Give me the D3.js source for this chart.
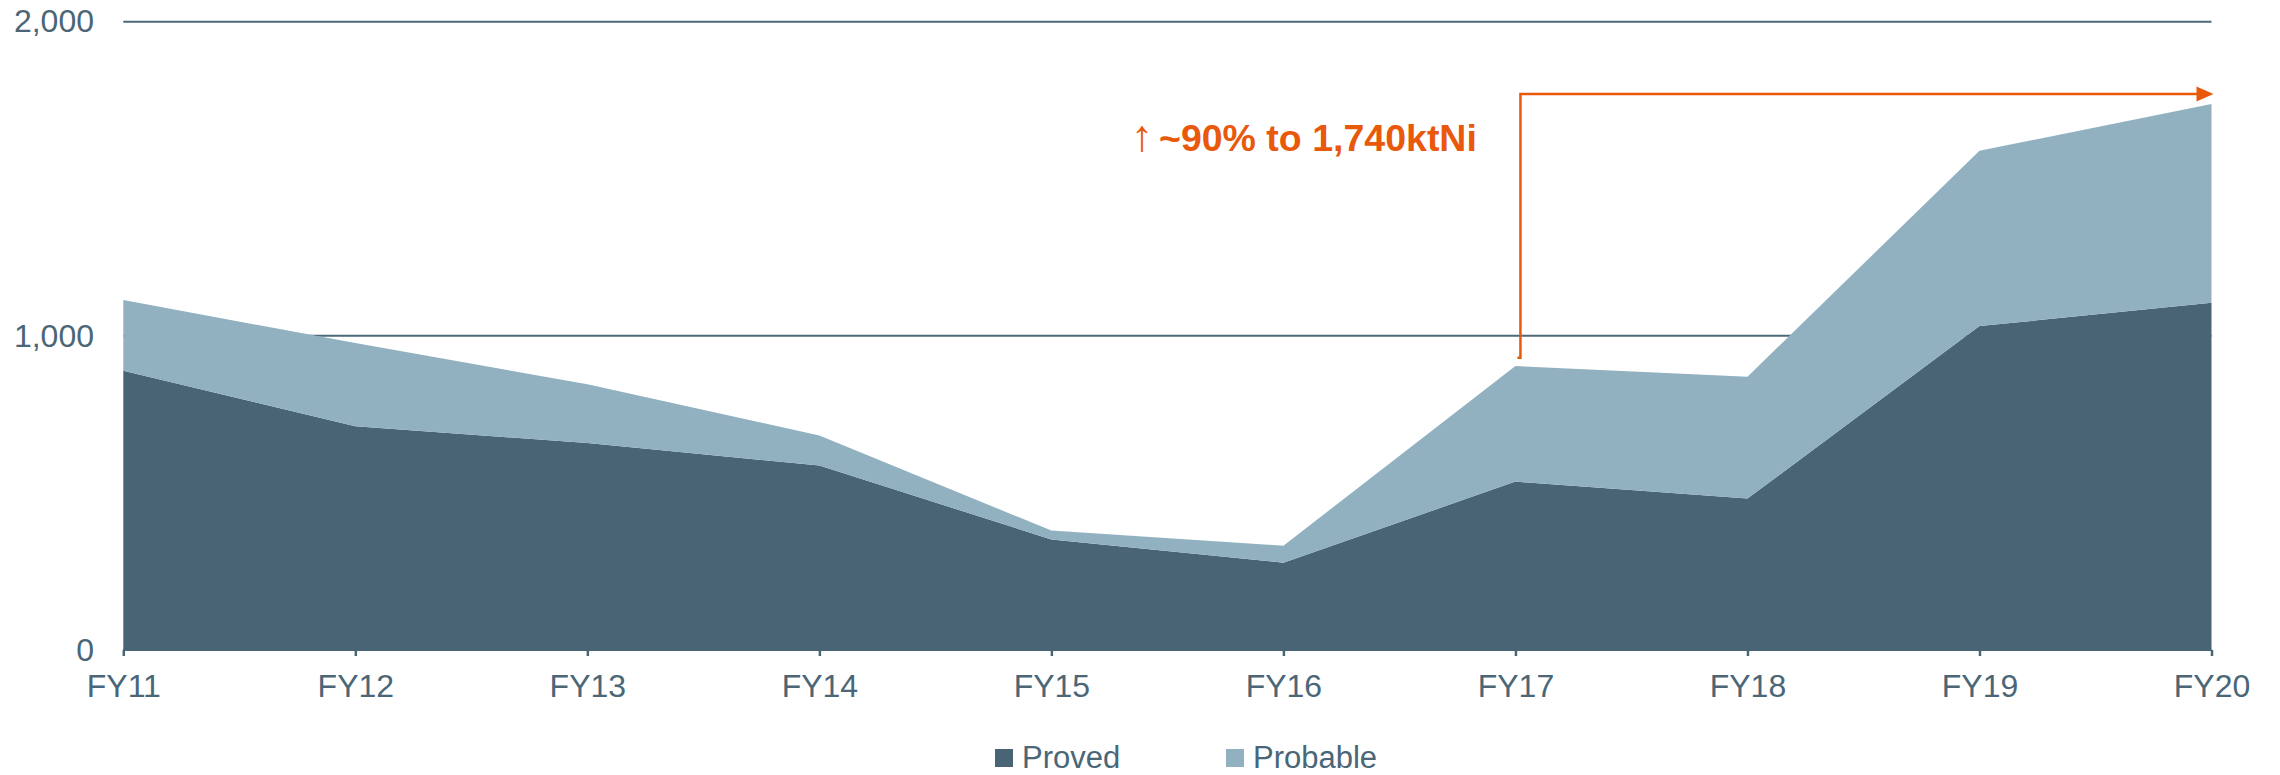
<!DOCTYPE html>
<html>
<head>
<meta charset="utf-8">
<script src="https://cdn.jsdelivr.net/npm/d3@7"></script>
<style>
  html, body { margin: 0; padding: 0; background: #ffffff; }
  svg { display: block; font-family: "Liberation Sans", Arial, sans-serif; }
</style>
</head>
<body>
<svg id="chart" width="2280" height="775"></svg>
<script>
// ---- data ----
const categories = ["FY11","FY12","FY13","FY14","FY15","FY16","FY17","FY18","FY19","FY20"];
const proved     = [889, 712, 659, 587, 352, 278, 536, 482, 1031, 1105];
const probable   = [225, 265, 187,  96,  28,  54, 368, 388,  558,  633];
const seriesNames = ["Proved", "Probable"];
const yTicks = [0, 1000, 2000];
const annotationText = "~90% to 1,740ktNi";
const annotationFrom = "FY17";
const annotationTo = "FY20";
const annotationLevel = 1770;
const annotationStart = 930;

// ---- style ----
const colors = { Proved: "#486475", Probable: "#91b1c0" };
const textColor = "#4a6677";
const orange = "#e8590c";

const svg = d3.select("#chart");
const x = d3.scalePoint().domain(categories).range([123.3, 2211.5]);
const y = d3.scaleLinear().domain([0, 2000]).range([650, 21.7]);

const rows = categories.map((c, i) => ({ cat: c, Proved: proved[i], Probable: probable[i] }));
const stacked = d3.stack().keys(seriesNames)(rows);

// gridlines
svg.append("g").selectAll("line")
  .data(yTicks.filter(t => t > 0))
  .join("line")
  .attr("x1", x.range()[0]).attr("x2", x.range()[1])
  .attr("y1", d => y(d)).attr("y2", d => y(d))
  .attr("stroke", "#4d6878").attr("stroke-width", 2);

// areas
const area = d3.area()
  .x(d => x(d.data.cat))
  .y0(d => y(d[0]))
  .y1(d => y(d[1]));
svg.append("g").selectAll("path")
  .data(stacked)
  .join("path")
  .attr("fill", d => colors[d.key])
  .attr("d", area);

// x axis
const xAxis = d3.axisBottom(x).tickSize(6).tickPadding(18);
const gx = svg.append("g").attr("transform", `translate(0,${y(0)})`).call(xAxis);
gx.select(".domain").attr("stroke", "#486475").attr("stroke-width", 2).attr("d", `M${x.range()[0]},0H${x.range()[1]}`);
gx.selectAll(".tick line").attr("stroke", "#486475").attr("stroke-width", 2.5);
gx.selectAll(".tick text")
  .attr("fill", textColor)
  .attr("font-size", 32)
  .attr("font-family", "Liberation Sans, Arial, sans-serif")
  .attr("dy", "0.71em");

// y axis labels
const yAxis = d3.axisLeft(y).tickValues(yTicks).tickSize(0).tickPadding(0)
  .tickFormat(d3.format(","));
const gy = svg.append("g").attr("transform", `translate(94,0)`).call(yAxis);
gy.select(".domain").remove();
gy.selectAll(".tick text")
  .attr("fill", textColor)
  .attr("font-size", 32)
  .attr("font-family", "Liberation Sans, Arial, sans-serif");

// legend
const legend = svg.append("g").attr("transform", "translate(995,749)");
const legendX = [0, 231];
seriesNames.forEach((name, i) => {
  const g = legend.append("g").attr("transform", `translate(${legendX[i]},0)`);
  g.append("rect").attr("width", 18).attr("height", 18).attr("fill", colors[name]);
  g.append("text").attr("x", 27).attr("y", 19)
    .attr("fill", textColor).attr("font-size", 31).text(name);
});

// annotation bracket
const ax0 = x(annotationFrom) + 5;
const ax1 = x(annotationTo);
const ayTop = y(annotationLevel);
const ayBot = y(annotationStart);
svg.append("path")
  .attr("d", `M${ax0 - 3},${ayBot}H${ax0}V${ayTop}H${ax1 - 14}`)
  .attr("fill", "none").attr("stroke", orange).attr("stroke-width", 2.5);
svg.append("path")
  .attr("d", `M${ax1 + 2},${ayTop}L${ax1 - 15},${ayTop - 7.5}L${ax1 - 15},${ayTop + 7.5}Z`)
  .attr("fill", orange);

// annotation text
const t = svg.append("text").attr("x", 1131).attr("y", 151)
  .attr("fill", orange);
t.append("tspan").attr("font-weight", "normal").attr("font-size", 44).text("↑");
t.append("tspan").attr("font-weight", "bold").attr("font-size", 37.5).attr("dx", 6).text(annotationText);
</script>
</body>
</html>
